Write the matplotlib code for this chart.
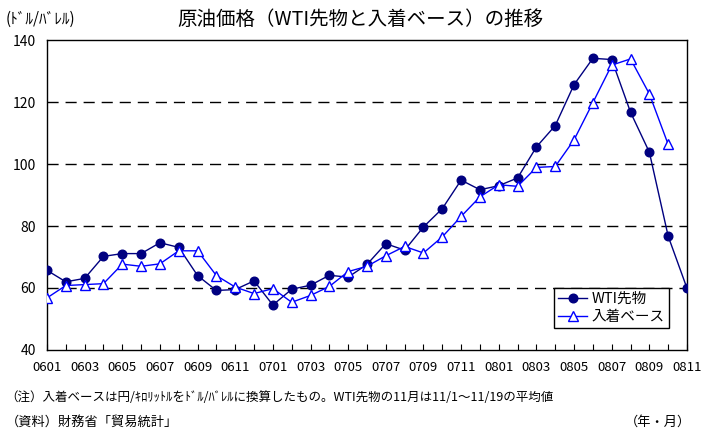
import matplotlib
matplotlib.use("Agg")
import matplotlib.pyplot as plt
import numpy as np

plt.rcParams["font.family"] = ["Noto Sans CJK JP", "DejaVu Sans"]

# months Jan 2006 .. Nov 2008
months = [f"{y:02d}{m:02d}" for y in (6, 7, 8) for m in range(1, 13)][:35]

wti = [65.7, 62.0, 63.1, 70.2, 71.1, 71.1, 74.6, 73.1, 64.0, 59.2, 59.5, 62.3,
       54.5, 59.6, 60.9, 64.1, 63.5, 67.6, 74.3, 72.2, 79.7, 85.6, 94.8, 91.7,
       93.0, 95.5, 105.5, 112.4, 125.6, 134.1, 133.7, 116.7, 103.8, 76.7, 59.9]

landed = [56.8, 60.8, 61.1, 61.4, 67.7, 67.0, 67.8, 72.0, 72.0, 64.0, 60.3, 58.2,
          59.8, 55.4, 57.6, 60.5, 65.3, 67.0, 70.4, 73.4, 71.3, 76.5, 83.1, 89.4,
          93.3, 92.8, 98.9, 99.2, 107.8, 119.8, 131.9, 133.9, 122.6, 106.3]

yticks = [40, 60, 80, 100, 120, 140]

fig = plt.figure(figsize=(7.14, 4.33), dpi=100)
ax = fig.add_axes([0.0658, 0.1917, 0.8964, 0.7159])

x = np.arange(len(months))
ax.plot(x[:len(wti)], wti, color="#000080", lw=1.0, marker="o", ms=6.2,
        mfc="#000080", mec="#000080", label="WTI先物", zorder=3)
ax.plot(x[:len(landed)], landed, color="#0000FF", lw=1.0, marker="^", ms=6.8,
        mfc="white", mec="#0000FF", mew=1.0, label="入着ベース", zorder=3)

ax.set_xlim(0, len(months) - 1)
ax.set_ylim(40, 140)
ax.set_yticks(yticks)
ax.set_yticklabels([str(v) for v in yticks], fontsize=10)
ax.tick_params(axis="y", length=0, pad=8)

ax.set_xticks(x)
ax.set_xticklabels([m if i % 2 == 0 else "" for i, m in enumerate(months)], fontsize=9.5)
ax.tick_params(axis="x", direction="in", length=4, width=0.8, pad=8)

for v in yticks[1:-1]:
    ax.axhline(v, color="black", lw=1.0, ls=(0, (8, 5)), zorder=1)

for s in ax.spines.values():
    s.set_linewidth(1.0)
    s.set_color("black")

leg = ax.legend(loc="lower right", bbox_to_anchor=(0.972, 0.071), borderaxespad=0,
                fontsize=10.5, frameon=True, fancybox=False, edgecolor="black",
                framealpha=1, handlelength=2.0, borderpad=0.3, labelspacing=0.25,
                handletextpad=0.3)
leg.get_frame().set_linewidth(1.0)

fig.text(0.505, 0.955, "原油価格（WTI先物と入着ベース）の推移", ha="center", va="center", fontsize=14)
fig.text(0.008, 0.955, "(ﾄﾞﾙ/ﾊﾞﾚﾙ)", ha="left", va="center", fontsize=11)
fig.text(0.008, 0.083, "（注）入着ベースは円/ｷﾛﾘｯﾄﾙをﾄﾞﾙ/ﾊﾞﾚﾙに換算したもの。WTI先物の11月は11/1～11/19の平均値",
         ha="left", va="center", fontsize=9)
fig.text(0.008, 0.025, "（資料）財務省「貿易統計」", ha="left", va="center", fontsize=9.5)
fig.text(0.968, 0.025, "（年・月）", ha="right", va="center", fontsize=9.5)

fig.savefig("out.png", dpi=100)
